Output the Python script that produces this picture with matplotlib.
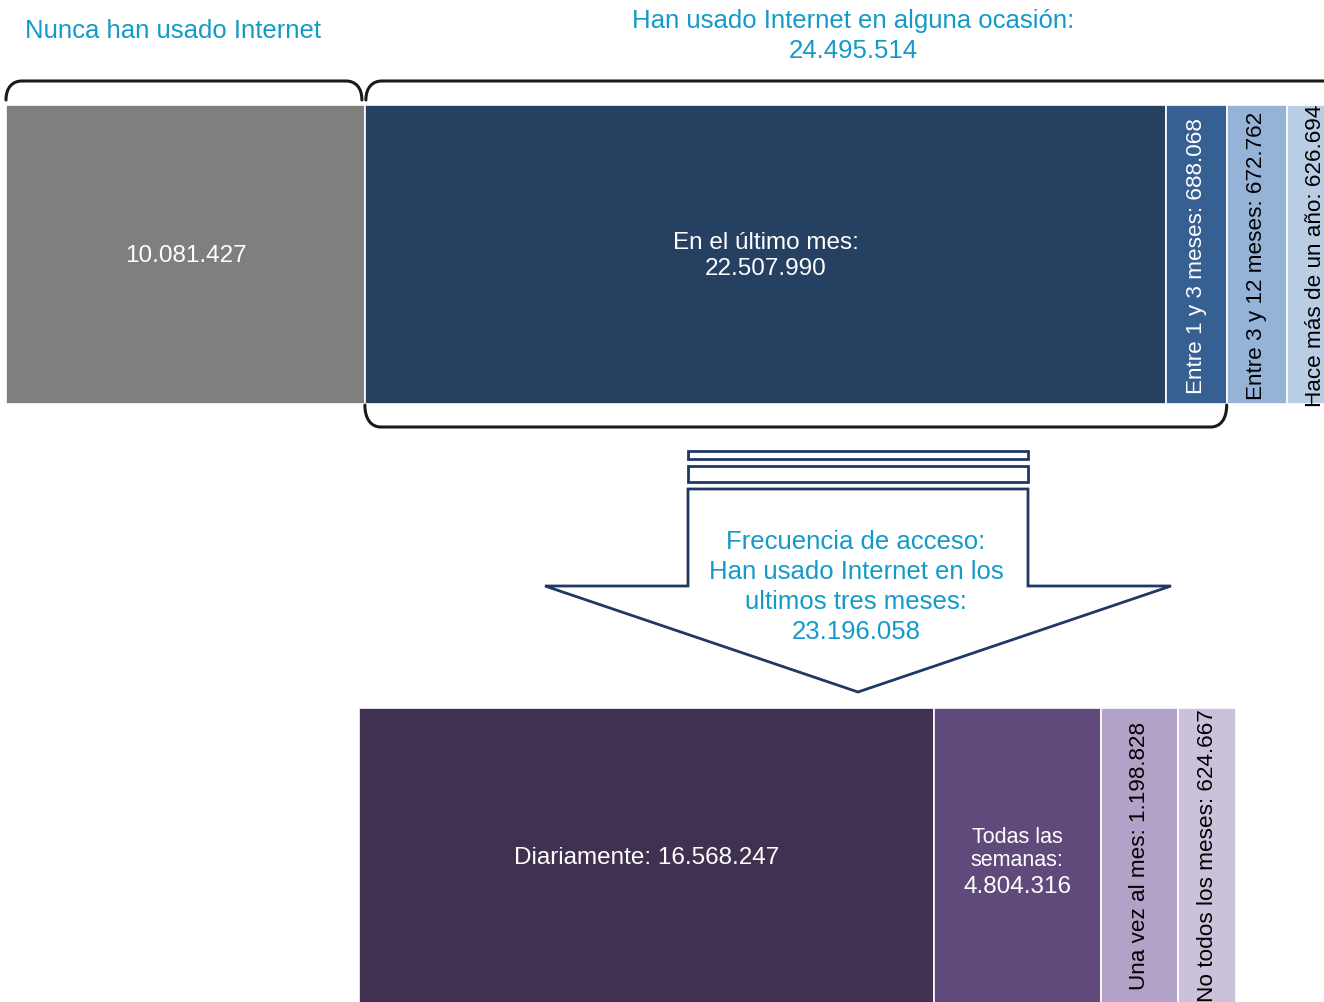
import matplotlib.pyplot as plt
from matplotlib.patches import Rectangle, Polygon, PathPatch
from matplotlib.path import Path

plt.rcParams['font.family'] = ['Liberation Sans', 'DejaVu Sans']

# datos (personas)
top_labels = ['', 'En el último mes:', 'Entre 1 y 3 meses:', 'Entre 3 y 12 meses:', 'Hace más de un año:']
top_values = [10081427, 22507990, 688068, 672762, 626694]
top_colors = ['#7f7f7f', '#254061', '#376092', '#95b3d7', '#b9cde5']

bottom_labels = ['Diariamente:', 'Todas las\nsemanas:', 'Una vez al mes:', 'No todos los meses:']
bottom_values = [16568247, 4804316, 1198828, 624667]
bottom_colors = ['#403151', '#604a7b', '#b3a2c7', '#ccc1da']

never_total = 10081427
ever_total = 24495514
last3_total = 23196058

CYAN = '#139ac8'
NAVY = '#1f3864'
SMALL = 2e6      # segmentos pequeños: se ensanchan para que quepa el texto
PAD = 36


def fmt(v):
    return f'{v:,}'.replace(',', '.')


def widths(values, k):
    return [v / 1e6 * k + (PAD if v < SMALL else 0) for v in values]


fig = plt.figure(figsize=(13.24, 10.02), dpi=100)
ax = fig.add_axes([0, 0, 1, 1])
ax.set_xlim(0, 1324)
ax.set_ylim(1002, 0)
ax.axis('off')

# fila superior
TOP_Y, TOP_H = 105, 299
tw = widths(top_values, 35.6)
tx = [6]
for w in tw[:-1]:
    tx.append(tx[-1] + w)
ax.barh(TOP_Y + TOP_H / 2, tw, height=TOP_H, left=tx, color=top_colors,
        edgecolor='white', linewidth=1.2)

for i, (x, w, v) in enumerate(zip(tx, tw, top_values)):
    xc = x + w / 2
    if i == 0:
        ax.text(xc, 256, fmt(v), color='white', fontsize=17.5,
                ha='center', va='center')
    elif i == 1:
        ax.text(xc, 256, top_labels[i] + '\n' + fmt(v), color='white',
                fontsize=17.5, ha='center', va='center', linespacing=1.2)
    else:
        col = 'white' if i == 2 else 'black'
        ax.text(xc, 256, top_labels[i] + ' ' + fmt(v), color=col,
                fontsize=16.2, ha='center', va='center', rotation=90, clip_on=True)

# fila inferior
BOT_Y, BOT_H = 708, 300
bw = widths(bottom_values, 34.7)
bx = [359]
for w in bw[:-1]:
    bx.append(bx[-1] + w)
ax.barh(BOT_Y + BOT_H / 2, bw, height=BOT_H, left=bx, color=bottom_colors,
        edgecolor='white', linewidth=1.2)

for i, (x, w, v) in enumerate(zip(bx, bw, bottom_values)):
    xc = x + w / 2
    if i == 0:
        ax.text(xc, 858, bottom_labels[i] + ' ' + fmt(v), color='white',
                fontsize=17.5, ha='center', va='center')
    elif i == 1:
        ax.text(xc, 849, bottom_labels[i], color='white', fontsize=15.5,
                ha='center', va='center', linespacing=1.15)
        ax.text(xc, 887, fmt(v), color='white', fontsize=17.5,
                ha='center', va='center')
    else:
        ax.text(xc, 856, bottom_labels[i] + ' ' + fmt(v), color='black',
                fontsize=16.2, ha='center', va='center', rotation=90)


def brace(x0, x1, y_tip, y_line, r=16):
    verts = [(x0, y_tip), (x0, y_line + (y_tip - y_line) * 0.35), (x0 + r * 0.4, y_line), (x0 + r, y_line),
             (x1 - r, y_line),
             (x1 - r * 0.4, y_line), (x1, y_line + (y_tip - y_line) * 0.35), (x1, y_tip)]
    codes = [Path.MOVETO, Path.CURVE4, Path.CURVE4, Path.CURVE4, Path.LINETO,
             Path.CURVE4, Path.CURVE4, Path.CURVE4]
    ax.add_patch(PathPatch(Path(verts, codes), fill=False, edgecolor='#1a1a1a',
                           linewidth=2.2, capstyle='round'))


brace(tx[0], tx[1] - 3, 100, 81)
brace(tx[1] + 1, 1380, 100, 81)
brace(tx[1], tx[3], 405, 427)

# títulos
ax.text(173, 31, 'Nunca han usado Internet', color=CYAN, fontsize=18.5,
        ha='center', va='center')
ax.text(853, 36, 'Han usado Internet en alguna ocasión:\n' + fmt(ever_total),
        color=CYAN, fontsize=18.5, ha='center', va='center', linespacing=1.3)

# flecha
for y0, y1 in [(451, 459), (466, 482)]:
    ax.add_patch(Rectangle((688, y0), 340, y1 - y0, facecolor='white',
                           edgecolor=NAVY, linewidth=2))
ax.add_patch(Polygon([(688, 489), (1028, 489), (1028, 586), (1171, 586),
                      (858, 692), (545, 586), (688, 586)], closed=True,
                     facecolor='white', edgecolor=NAVY, linewidth=2))
ax.text(856, 587, 'Frecuencia de acceso:\nHan usado Internet en los\nultimos tres meses:\n'
        + fmt(last3_total), color=CYAN, fontsize=18.5, ha='center', va='center',
        linespacing=1.3)

fig.savefig('out.png', dpi=100, facecolor='white')
